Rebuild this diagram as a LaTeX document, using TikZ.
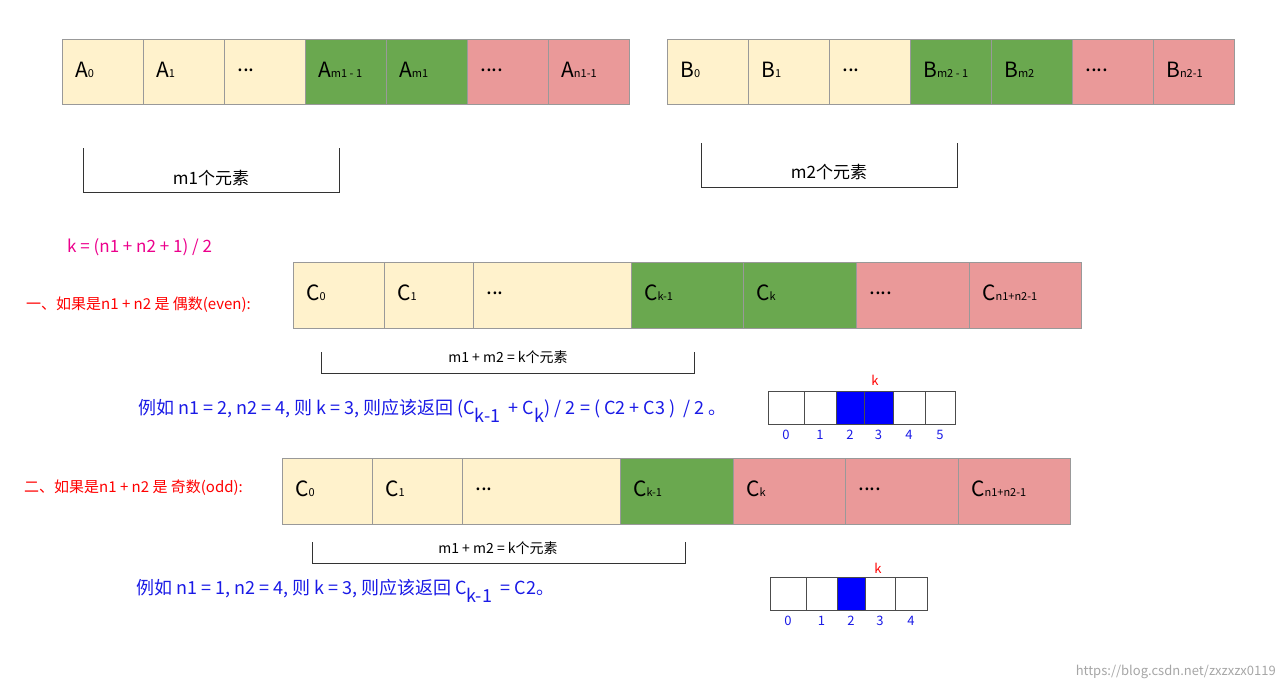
\documentclass[tikz,border=0pt]{standalone}
\usepackage{fontspec}
\setmainfont{Noto Sans CJK SC}
\usetikzlibrary{positioning}
\definecolor{cyel}{HTML}{FFF2CC}
\definecolor{cgrn}{HTML}{6AA84F}
\definecolor{cpnk}{HTML}{EA9999}
\definecolor{cblu}{HTML}{1A1AE6}
\newcommand{\sub}[1]{{\fontsize{11}{11}\selectfont #1}}
\tikzset{
  cell/.style={draw=black!40, line width=1pt, minimum height=#1, inner sep=0pt, anchor=south west},
  lbl/.style={font=\fontsize{21}{21}\selectfont, anchor=west, inner sep=0pt},
  bit/.style={draw=black!70, line width=1.3pt, minimum height=33pt, inner sep=0pt, anchor=south west},
  idx/.style={font=\fontsize{13}{13}\selectfont, text=cblu, inner sep=0pt},
  note/.style={font=\fontsize{15}{15}\selectfont, inner sep=0pt, anchor=center},
  brace/.style={line width=0.8pt, black!80}
}
\begin{document}
\begin{tikzpicture}[x=1pt, y=-1pt]
\useasboundingbox (0,0) rectangle (1284,690);
% arrays A and B
\foreach \x/\w/\c/\t [count=\i] in {62/81/cyel/{A\sub{0}}, 143/81/cyel/{A\sub{1}}, 224/81/cyel/{...}, 305/81/cgrn/{A\sub{m1 - 1}}, 386/81/cgrn/{A\sub{m1}}, 467/81/cpnk/{....}, 548/81/cpnk/{A\sub{n1-1}}}{
  \node[cell=65pt, minimum width=\w pt, fill=\c] (A\i) at (\x,105) {};
  \node[lbl] (At\i) at (\x+13,70) {\t};
}
\foreach \x/\w/\c/\t [count=\i] in {667/81/cyel/{B\sub{0}}, 748/81/cyel/{B\sub{1}}, 829/81/cyel/{...}, 910/81/cgrn/{B\sub{m2 - 1}}, 991/81/cgrn/{B\sub{m2}}, 1072/81/cpnk/{....}, 1153/81/cpnk/{B\sub{n2-1}}}{
  \node[cell=65pt, minimum width=\w pt, fill=\c] (B\i) at (\x,105) {};
  \node[lbl] (Bt\i) at (\x+13,70) {\t};
}
% brackets m1, m2
\draw[brace] (83,148) -- (83,192) -- (339,192) -- (339,148);
\node[note, font=\fontsize{17}{17}\selectfont] (m1) at (211,178) {m1个元素};
\draw[brace] (701,143) -- (701,187) -- (957,187) -- (957,143);
\node[note, font=\fontsize{17}{17}\selectfont] (m2) at (829,172) {m2个元素};
% k formula
\node[note, anchor=west, text=magenta, font=\fontsize{17}{17}\selectfont] (kf) at (67,247) {k = (n1 + n2 + 1) / 2};
% even case
\node[note, anchor=west, text=red] (even) at (26,305) {一、如果是n1 + n2 是 偶数(even):};
\foreach \x/\w/\c/\t [count=\i] in {293/91/cyel/{C\sub{0}}, 384/89/cyel/{C\sub{1}}, 473/158/cyel/{...}, 631/112/cgrn/{C\sub{k-1}}, 743/113/cgrn/{C\sub{k}}, 856/113/cpnk/{....}, 969/112/cpnk/{C\sub{n1+n2-1}}}{
  \node[cell=66pt, minimum width=\w pt, fill=\c] (C\i) at (\x,329) {};
  \node[lbl] (Ct\i) at (\x+13,293) {\t};
}
\draw[brace] (321,352) -- (321,373) -- (694,373) -- (694,352);
\node[note, font=\fontsize{14}{14}\selectfont] (s1) at (508,357) {m1 + m2 = k个元素};
\node[note, anchor=west, text=cblu, font=\fontsize{18}{18}\selectfont] (ex1) at (138,411) {例如 n1 = 2, n2 = 4, 则 k = 3, 则应该返回 (C$_{\textrm{k-1}}$ \ + C$_{\textrm{k}}$) / 2 = ( C2 + C3 )\ \ / 2 。};
\foreach \x/\w/\c [count=\i from 0] in {768/36/white, 804/32/white, 836/28/blue, 864/29/blue, 893/32/white, 925/30/white}{
  \node[bit, minimum width=\w pt, fill=\c] (P\i) at (\x,425) {};
  \node[idx] (Pi\i) at (\x+\w/2,435) {\i};
}
\node[idx, text=red] (k1) at (875,380) {k};
% odd case
\node[note, anchor=west, text=red] (odd) at (24,488) {二、如果是n1 + n2 是 奇数(odd):};
\foreach \x/\w/\c/\t [count=\i] in {282/90/cyel/{C\sub{0}}, 372/90/cyel/{C\sub{1}}, 462/158/cyel/{...}, 620/113/cgrn/{C\sub{k-1}}, 733/112/cpnk/{C\sub{k}}, 845/113/cpnk/{....}, 958/112/cpnk/{C\sub{n1+n2-1}}}{
  \node[cell=66pt, minimum width=\w pt, fill=\c] (D\i) at (\x,525) {};
  \node[lbl] (Dt\i) at (\x+13,489) {\t};
}
\draw[brace] (312,542) -- (312,563) -- (685,563) -- (685,542);
\node[note, font=\fontsize{14}{14}\selectfont] (s2) at (498,548) {m1 + m2 = k个元素};
\node[note, anchor=west, text=cblu, font=\fontsize{18}{18}\selectfont] (ex2) at (136,591) {例如 n1 = 1, n2 = 4, 则 k = 3, 则应该返回 C$_{\textrm{k-1}}$ \ = C2。};
\foreach \x/\w/\c [count=\i from 0] in {770/36/white, 806/31/white, 837/28/blue, 865/30/white, 895/32/white}{
  \node[bit, minimum width=\w pt, fill=\c] (Q\i) at (\x,611) {};
  \node[idx] (Qi\i) at (\x+\w/2,621) {\i};
}
\node[idx, text=red] (k2) at (878,568) {k};
\node[anchor=east, text=black!35, font=\fontsize{13}{13}\selectfont, inner sep=0pt] (wm) at (1276,672) {https://blog.csdn.net/zxzxzx0119};
\end{tikzpicture}
\end{document}
